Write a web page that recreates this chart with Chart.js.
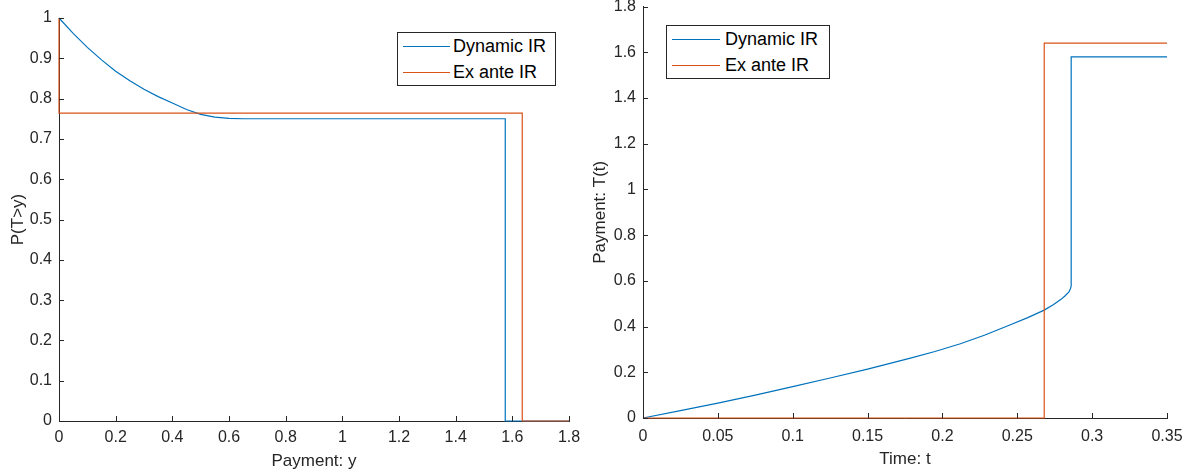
<!DOCTYPE html>
<html>
<head>
<meta charset="utf-8">
<script src="https://cdn.jsdelivr.net/npm/chart.js@4/dist/chart.umd.min.js"></script>
<style>
  html, body { margin: 0; padding: 0; background: #fff; }
  body { width: 1192px; height: 474px; position: relative; overflow: hidden; font-family: "Liberation Sans", Arial, sans-serif; }
  .box { position: absolute; }
  .legend { position: absolute; border: 1px solid #262626; background: #fff; }
  .legend .row { height: 26px; display: flex; align-items: center; }
  .legend .swatch { height: 0; border-top: 1.5px solid; margin-left: 5px; }
  .legend .txt { font-size: 18px; color: #000; line-height: 26px; white-space: nowrap; }
</style>
</head>
<body>
<div class="box" style="left:0;top:0;width:590px;height:474px;"><canvas id="leftChart"></canvas></div>
<div class="box" style="left:590px;top:-10px;width:602px;height:484px;"><canvas id="rightChart"></canvas></div>
<div class="legend" id="leftLegend" style="left:397px;top:32px;width:157px;"></div>
<div class="legend" id="rightLegend" style="left:666px;top:25px;width:162px;"></div>

<script>
const seriesNames = ["Dynamic IR", "Ex ante IR"];
const seriesColors = ["#0072BD", "#D95319"];

// left panel: P(T>y)
const dynPayY = [0, 0.05, 0.1, 0.15, 0.2, 0.25, 0.3, 0.35, 0.4, 0.45, 0.5, 0.55, 0.6, 0.65, 1.575, 1.575, 1.8];
const dynProb = [1, 0.962, 0.927, 0.896, 0.868, 0.844, 0.823, 0.805, 0.789, 0.773, 0.761, 0.754, 0.751, 0.75, 0.75, 0, 0];
const exPayY = [0, 0, 1.635, 1.635, 1.8];
const exProb = [1, 0.764, 0.764, 0, 0];

const leftXTicks = [0, 0.2, 0.4, 0.6, 0.8, 1, 1.2, 1.4, 1.6, 1.8];
const leftYTicks = [0, 0.1, 0.2, 0.3, 0.4, 0.5, 0.6, 0.7, 0.8, 0.9, 1];

// right panel: T(t)
const dynTime = [0, 0.025, 0.05, 0.075, 0.1, 0.125, 0.15, 0.178, 0.195, 0.212, 0.228, 0.245, 0.257, 0.268, 0.274, 0.279, 0.282, 0.2845, 0.2855, 0.286, 0.286, 0.35];
const dynPay = [0, 0.032, 0.065, 0.1, 0.137, 0.175, 0.214, 0.261, 0.291, 0.325, 0.362, 0.407, 0.439, 0.472, 0.495, 0.518, 0.535, 0.552, 0.565, 0.578, 1.58, 1.58];
const exTime = [0, 0.268, 0.268, 0.35];
const exPay = [0, 0, 1.64, 1.64];

const rightXTicks = [0, 0.05, 0.1, 0.15, 0.2, 0.25, 0.3, 0.35];
const rightYTicks = [0, 0.2, 0.4, 0.6, 0.8, 1, 1.2, 1.4, 1.6, 1.8];

const axisColor = "#262626";
const fontFamily = "'Liberation Sans', Arial, sans-serif";

function toPoints(xs, ys) {
    return xs.map((x, i) => ({ x: x, y: ys[i] }));
}

// ticks pointing into the plot, matlab style
const inwardTicks = {
    id: "inwardTicks",
    afterDraw(chart) {
        const { ctx, chartArea, scales } = chart;
        ctx.save();
        ctx.strokeStyle = axisColor;
        ctx.lineWidth = 1;
        ctx.beginPath();
        scales.x.ticks.forEach((t) => {
            let px = Math.round(scales.x.getPixelForValue(t.value)) + 0.5;
            ctx.moveTo(px, chartArea.bottom);
            ctx.lineTo(px, chartArea.bottom - 5);
        });
        scales.y.ticks.forEach((t) => {
            let py = Math.round(scales.y.getPixelForValue(t.value)) + 0.5;
            ctx.moveTo(chartArea.left, py);
            ctx.lineTo(chartArea.left + 5, py);
        });
        ctx.stroke();
        ctx.restore();
    },
};

function makeChart(id, sets, opts) {
    return new Chart(document.getElementById(id), {
        type: "scatter",
        data: {
            datasets: sets.map((s, i) => ({
                label: seriesNames[i],
                data: s,
                showLine: true,
                borderColor: seriesColors[i],
                backgroundColor: seriesColors[i],
                borderWidth: 1.2,
                pointRadius: 0,
                tension: 0,
                clip: false,
                order: i === 0 ? 1 : 0,
            })),
        },
        options: {
            responsive: true,
            maintainAspectRatio: false,
            animation: false,
            layout: { padding: opts.padding },
            plugins: { legend: { display: false }, tooltip: { enabled: false } },
            scales: {
                x: {
                    type: "linear",
                    min: opts.xTicks[0],
                    max: opts.xTicks[opts.xTicks.length - 1],
                    afterBuildTicks: (s) => { s.ticks = opts.xTicks.map((v) => ({ value: v })); },
                    afterFit: (s) => { s.height = opts.xHeight; },
                    grid: { display: true, drawOnChartArea: false, drawTicks: false, color: "rgba(0,0,0,0)" },
                    border: { display: true, color: axisColor, width: 1 },
                    ticks: {
                        padding: opts.xTickPad,
                        maxRotation: 0,
                        autoSkip: false,
                        color: axisColor,
                        font: { family: fontFamily, size: 16 },
                        callback: (v) => String(+v.toFixed(2)),
                    },
                    title: {
                        display: true,
                        text: opts.xTitle,
                        color: axisColor,
                        font: { family: fontFamily, size: 17 },
                        padding: { top: 0, bottom: opts.xTitlePad },
                    },
                },
                y: {
                    type: "linear",
                    min: opts.yTicks[0],
                    max: opts.yTicks[opts.yTicks.length - 1],
                    afterBuildTicks: (s) => { s.ticks = opts.yTicks.map((v) => ({ value: v })); },
                    afterFit: (s) => { s.width = opts.yWidth; },
                    grid: { display: true, drawOnChartArea: false, drawTicks: false, color: "rgba(0,0,0,0)" },
                    border: { display: true, color: axisColor, width: 1 },
                    ticks: {
                        padding: 7,
                        autoSkip: false,
                        color: axisColor,
                        font: { family: fontFamily, size: 16 },
                        callback: (v) => String(+v.toFixed(2)),
                    },
                    title: {
                        display: true,
                        text: opts.yTitle,
                        color: axisColor,
                        font: { family: fontFamily, size: 17 },
                        padding: { top: opts.yTitlePad, bottom: 0 },
                    },
                },
            },
        },
        plugins: [inwardTicks],
    });
}

function makeLegend(id, swatchWidth, gap) {
    let el = document.getElementById(id);
    seriesNames.forEach((name, i) => {
        let row = document.createElement("div");
        row.className = "row";
        row.innerHTML = '<span class="swatch" style="width:' + swatchWidth + 'px;margin-right:' + gap + 'px;border-color:' +
            seriesColors[i] + '"></span><span class="txt">' + name + "</span>";
        el.appendChild(row);
    });
}

makeChart("leftChart", [toPoints(dynPayY, dynProb), toPoints(exPayY, exProb)], {
    padding: { top: 18, right: 21, bottom: 0, left: 0 },
    xTicks: leftXTicks,
    yTicks: leftYTicks,
    xHeight: 53,
    yWidth: 59,
    xTickPad: 7,
    xTitle: "Payment: y",
    yTitle: "P(T>y)",
    xTitlePad: 2,
    yTitlePad: 8,
});

makeChart("rightChart", [toPoints(dynTime, dynPay), toPoints(exTime, exPay)], {
    padding: { top: 15, right: 25, bottom: 0, left: 0 },
    xTicks: rightXTicks,
    yTicks: rightYTicks,
    xHeight: 56,
    yWidth: 53,
    xTickPad: 9,
    xTitle: "Time: t",
    yTitle: "Payment: T(t)",
    xTitlePad: 4,
    yTitlePad: 0,
});

makeLegend("leftLegend", 47, 3);
makeLegend("rightLegend", 48, 5);
</script>
</body>
</html>
